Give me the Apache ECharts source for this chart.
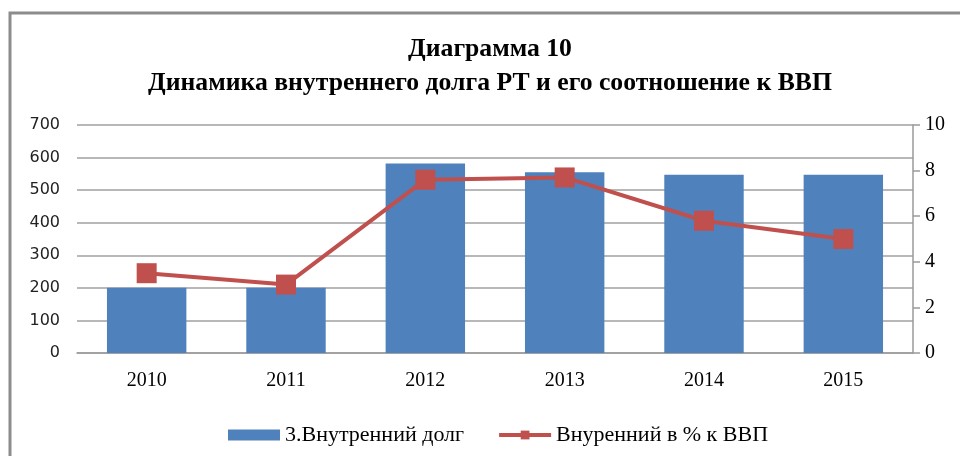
<!DOCTYPE html>
<html><head><meta charset="utf-8">
<script src="https://cdn.jsdelivr.net/npm/echarts@6/dist/echarts.min.js"></script>
<style>html,body{margin:0;padding:0;background:#fff}#c{width:960px;height:456px}</style>
</head><body><div id="c"></div>
<script>
const titleLine1 = 'Диаграмма 10';
const titleLine2 = 'Динамика внутреннего долга РТ и его соотношение к ВВП';
const categories = ['2010', '2011', '2012', '2013', '2014', '2015'];
const seriesNames = ['3.Внутренний долг', 'Внуренний в % к ВВП'];
const debtValues = [200, 200, 582, 555, 547, 547];
const gdpShareValues = [3.5, 3.0, 7.6, 7.7, 5.8, 5.0];

const chart = echarts.init(document.getElementById('c'), null, {renderer: 'canvas'});
const serif = 'Liberation Serif';
const titleFont = 'bold 25.7px "Liberation Serif"';
chart.setOption({
  animation: false,
  backgroundColor: '#fff',
  graphic: [{
    type: 'rect', shape: {x: 10, y: 13, width: 1000, height: 500},
    style: {fill: 'none', stroke: '#8c8c8c', lineWidth: 3}, silent: true
  }, {
    type: 'text', x: 490, y: 49,
    style: {text: titleLine1, font: titleFont, fill: '#000', align: 'center', verticalAlign: 'middle'}
  }, {
    type: 'text', x: 490, y: 83,
    style: {text: titleLine2, font: titleFont, fill: '#000', align: 'center', verticalAlign: 'middle'}
  }],
  legend: {
    left: 223, top: 419, itemGap: 33, itemWidth: 52, itemHeight: 11,
    textStyle: {fontFamily: serif, fontSize: 22, color: '#000'},
    data: [
      {name: seriesNames[0], icon: 'rect'},
      {name: seriesNames[1], lineStyle: {width: 4}}
    ]
  },
  grid: {left: 77, right: 47, top: 125, bottom: 103, containLabel: false},
  xAxis: {
    type: 'category', data: categories, boundaryGap: true,
    axisLine: {show: true, lineStyle: {color: '#9a9a9a', width: 1.5}},
    axisTick: {show: false},
    axisLabel: {fontFamily: serif, fontSize: 20, color: '#000', margin: 18}
  },
  yAxis: [{
    type: 'value', min: 0, max: 700, interval: 100, position: 'left',
    axisLine: {show: false}, axisTick: {show: false},
    axisLabel: {fontFamily: 'DejaVu Sans', fontSize: 16, color: '#222', margin: 17},
    splitLine: {show: true, lineStyle: {color: '#a0a0a0', width: 1.5}}
  }, {
    type: 'value', min: 0, max: 10, interval: 2, position: 'right',
    axisLine: {show: true, lineStyle: {color: '#9a9a9a', width: 1.5}},
    axisTick: {show: true, inside: false, length: 7, lineStyle: {color: '#9a9a9a', width: 1.5}},
    axisLabel: {fontFamily: serif, fontSize: 20, color: '#000', margin: 12},
    splitLine: {show: false}
  }],
  series: [{
    name: seriesNames[0], type: 'bar', data: debtValues, yAxisIndex: 0,
    barWidth: '57%', itemStyle: {color: '#4F81BD'}
  }, {
    name: seriesNames[1], type: 'line', data: gdpShareValues, yAxisIndex: 1,
    symbol: 'rect', symbolSize: 20,
    lineStyle: {color: '#C0504D', width: 4},
    itemStyle: {color: '#C0504D'}
  }]
});
</script></body></html>
